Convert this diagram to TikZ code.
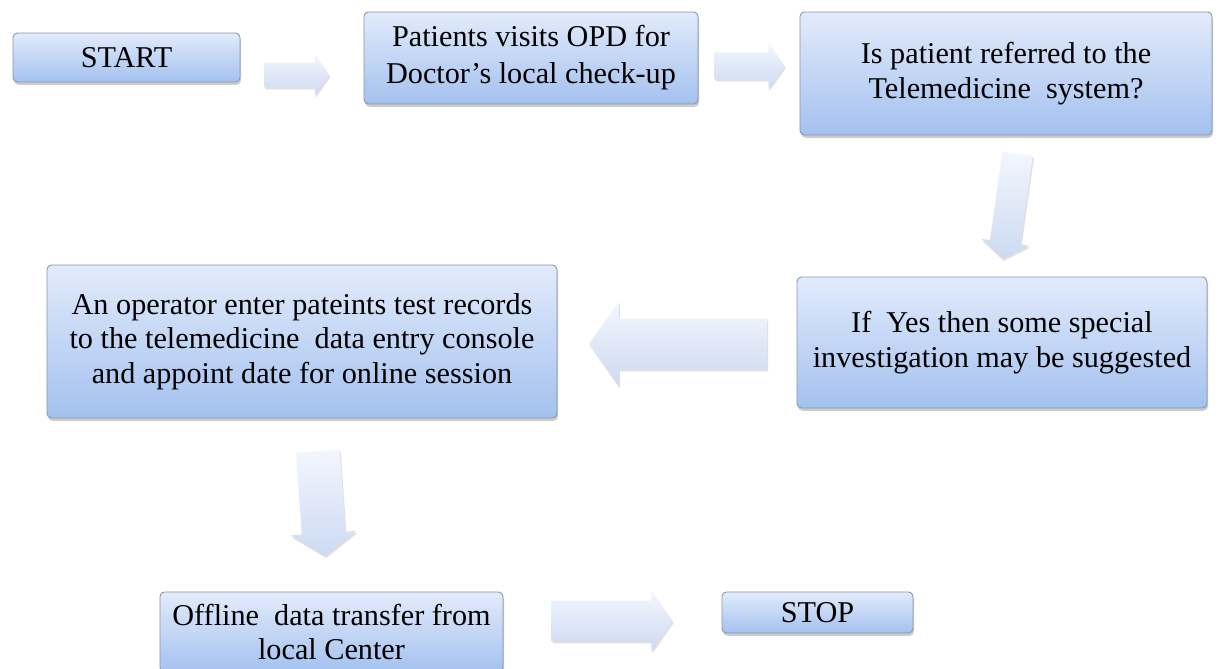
\documentclass[tikz,border=0pt]{standalone}
\usepackage{fontspec}
\setmainfont{Liberation Serif}
\usetikzlibrary{shapes.arrows,shadows}
\definecolor{boxtop}{HTML}{E2EBFB}
\definecolor{boxbot}{HTML}{A4C1EF}
\definecolor{boxline}{HTML}{8797AE}
\definecolor{arrtop}{HTML}{F3F6FD}
\definecolor{arrbot}{HTML}{CCDAF2}
\begin{document}
\begin{tikzpicture}[x=0.02cm,y=-0.02cm,
  box/.style={rectangle, rounded corners=2.5pt, draw=boxline, line width=0.5pt,
    top color=boxtop, bottom color=boxbot,
    drop shadow={shadow xshift=0.6pt, shadow yshift=-1.6pt, opacity=0.4},
    align=center, inner sep=0pt, font=\fontsize{17.2}{19.5}\selectfont},
  blockarrow/.style={single arrow, draw=none, top color=arrtop, bottom color=arrbot,
    inner xsep=0pt, single arrow tip angle=110,
    drop shadow={shadow xshift=0.6pt, shadow yshift=-1.2pt, opacity=0.25}}]
\useasboundingbox (0,0) rectangle (1231,669);
\clip (0,0) rectangle (1231,669);
\fill[white] (0,0) rectangle (1231,669);

% boxes
\node[box, minimum width=4.54cm, minimum height=0.98cm] (start) at (126.5,57.5) {START};
\node[box, minimum width=6.68cm, minimum height=1.84cm, font=\fontsize{17.2}{21}\selectfont] (opd) at (531,58)
  {Patients visits OPD for\\Doctor's local check-up};
\node[box, minimum width=8.24cm, minimum height=2.46cm] (ref) at (1006,73.5)
  {Is patient referred to the\\Telemedicine\ \ system?};
\node[box, minimum width=8.2cm, minimum height=2.62cm] (yes) at (1002,342.5)
  {If\ \ Yes then some special\\investigation may be suggested};
\node[box, minimum width=10.2cm, minimum height=3.06cm] (op) at (302,341.5)
  {An operator enter pateints test records\\to the telemedicine\ \ data entry console\\and appoint date for online session};
\node[box, minimum width=6.86cm, minimum height=1.6cm] (off) at (331.5,632)
  {Offline\ \ data transfer from\\local Center};
\node[box, minimum width=3.82cm, minimum height=0.82cm] (stop) at (817.5,612.5) {STOP};

% block arrows
\node[blockarrow, minimum height=1.3cm, minimum width=0.8cm, inner ysep=0.24cm, single arrow head extend=0.16cm] (a1) at (292.5,75) {};
\node[blockarrow, minimum height=1.4cm, minimum width=0.9cm, inner ysep=0.26cm, single arrow head extend=0.19cm] (a2) at (745,66) {};
\node[blockarrow, rotate=-98, minimum height=2.12cm, minimum width=0.94cm, inner ysep=0.3cm, single arrow head extend=0.17cm] (a3) at (1011,201) {};
\node[blockarrow, shape border rotate=180, minimum height=3.56cm, minimum width=1.68cm, inner ysep=0.5cm, single arrow head extend=0.34cm] (a4) at (687,344) {};
\node[blockarrow, rotate=-86, minimum height=2.1cm, minimum width=1.3cm, inner ysep=0.43cm, single arrow head extend=0.22cm] (a5) at (321,496) {};
\node[blockarrow, minimum height=2.42cm, minimum width=1.2cm, inner ysep=0.4cm, single arrow head extend=0.2cm] (a6) at (605,621) {};
\end{tikzpicture}
\end{document}
